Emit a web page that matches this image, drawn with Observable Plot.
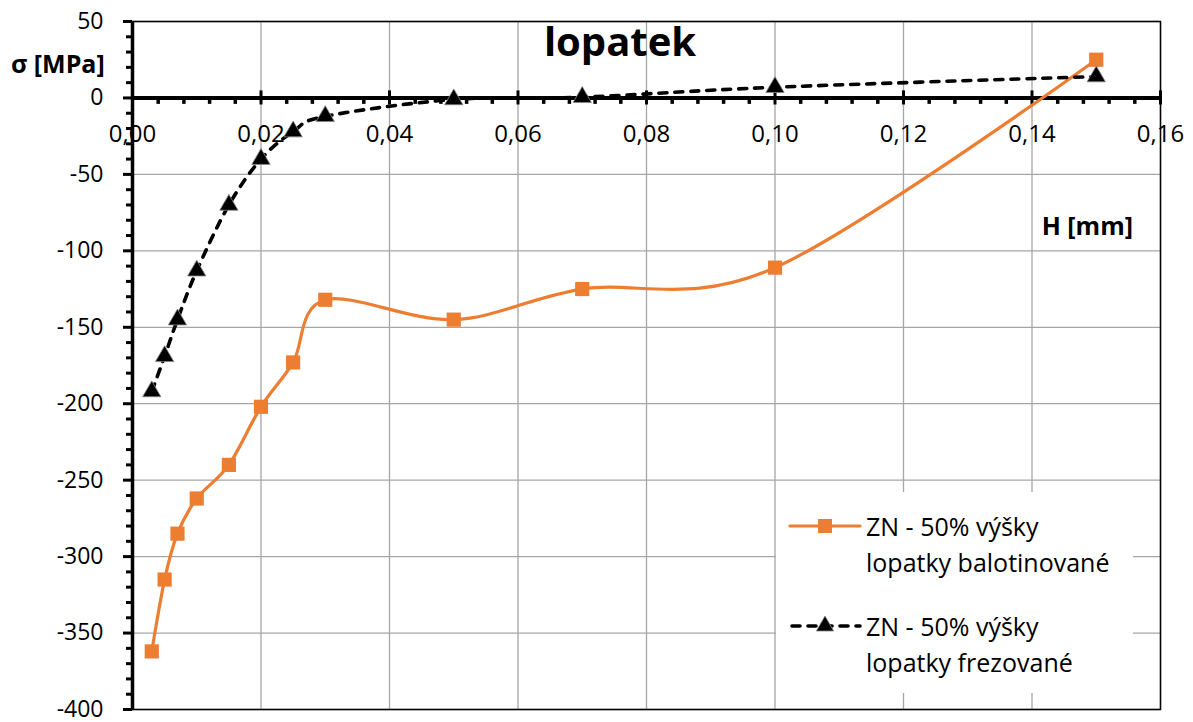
<!DOCTYPE html>
<html>
<head>
<meta charset="utf-8">
<script src="https://cdn.jsdelivr.net/npm/d3@7"></script>
<script src="https://cdn.jsdelivr.net/npm/@observablehq/plot@0.6"></script>
<style>
  html, body { margin: 0; padding: 0; background: #fff; }
  #wrap { position: relative; width: 1193px; height: 722px; overflow: hidden; font-family: "Open Sans", Lato, sans-serif; }
  #title { position: absolute; left: 0; width: 1240px; top: 14px; text-align: center; font-weight: bold; font-size: 40px; line-height: 54px; color: #000; }
  .lab { position: absolute; font-weight: bold; font-size: 25px; line-height: 26px; color: #000; white-space: nowrap; }
  #legend { position: absolute; left: 776px; top: 492px; width: 357px; height: 201px; background: #fff; }
  .lrow { position: absolute; left: 0; width: 357px; }
  .lrow svg { position: absolute; left: 12px; }
  .ltext { position: absolute; left: 90px; font-size: 25px; line-height: 36px; color: #000; white-space: nowrap; }
</style>
</head>
<body>
<div id="wrap">
  <div id="chart"></div>
  <div id="title">lopatek</div>
  <div class="lab" id="ylab" style="left:11px; top:50px;">σ [MPa]</div>
  <div class="lab" id="xlab" style="right:60px; top:212px;">H [mm]</div>
  <div id="legend"></div>
</div>
<script>
// ---- data ----
const H = [0.003, 0.005, 0.007, 0.010, 0.015, 0.020, 0.025, 0.030, 0.050, 0.070, 0.100, 0.150];
const sigmaBalot = [-362, -315, -285, -262, -240, -202, -173, -132, -145, -125, -111, 25];
const sigmaFrez = [-192, -169, -145, -113, -70, -40, -22, -12, -1, 0.5, 7, 14];
const seriesNames = ["ZN - 50% výšky\nlopatky balotinované", "ZN - 50% výšky\nlopatky frezované"];
const xMajor = [0, 0.02, 0.04, 0.06, 0.08, 0.10, 0.12, 0.14, 0.16];
const yMajor = [-400, -350, -300, -250, -200, -150, -100, -50, 0, 50];

const orange = "#ED7D31";
const balot = H.map((h, i) => ({h, s: sigmaBalot[i]}));
const frez = H.map((h, i) => ({h, s: sigmaFrez[i]}));
const xMinor = d3.range(0, 0.1601, 0.004).map(v => +v.toFixed(3)).filter(v => !xMajor.some(m => Math.abs(m - v) < 1e-9));
const yMinor = d3.range(-400, 51, 10).filter(v => v % 50 !== 0);
const fmtX = d => d3.format(".2f")(d).replace(".", ",");

const chart = Plot.plot({
  width: 1193,
  height: 722,
  marginLeft: 132,
  marginRight: 33,
  marginTop: 21,
  marginBottom: 13,
  style: {fontFamily: "'Open Sans', Lato, sans-serif", fontSize: "23px", color: "#000", background: "#fff", overflow: "visible"},
  x: {domain: [0, 0.16], axis: null},
  y: {domain: [-400, 50]},
  marks: [
    Plot.gridX(xMajor, {stroke: "#a6a6a6", strokeOpacity: 1, strokeWidth: 1.3}),
    Plot.gridY(yMajor, {stroke: "#a6a6a6", strokeOpacity: 1, strokeWidth: 1.3}),
    Plot.frame({stroke: "#000", strokeWidth: 1.5}),
    // y axis: major ticks with labels, minor ticks
    Plot.axisY(yMajor, {tickSize: 9, tickPadding: 20, strokeWidth: 3, tickFormat: d => String(d), fontSize: 23, label: null}),
    Plot.axisY(yMinor, {tickSize: 6, strokeWidth: 3, tickFormat: () => "", label: null}),
    // x axis labels along y=0
    Plot.text(xMajor, {x: d => d, y: 0, text: fmtX, dy: 36, fontSize: 24, fill: "#000"}),
    // x axis line at y=0 and its ticks
    Plot.ruleY([0], {stroke: "#000", strokeWidth: 4}),
    Plot.ruleX(xMajor, {x: d => d, y1: -4.6, y2: 4.6, stroke: "#000", strokeWidth: 3}),
    Plot.ruleX(xMinor, {x: d => d, y1: 0, y2: -4.2, stroke: "#000", strokeWidth: 3.5}),
    Plot.ruleX([0], {stroke: "#000", strokeWidth: 3.5}),
    // series
    Plot.line(balot, {x: "h", y: "s", curve: "cardinal", stroke: orange, strokeWidth: 3.2}),
    Plot.line(frez, {x: "h", y: "s", curve: "cardinal", stroke: "#000", strokeWidth: 3.6, strokeDasharray: "8,8", strokeLinecap: "round"}),
    Plot.dot(balot, {x: "h", y: "s", symbol: "square", r: 8, fill: orange, stroke: "none"}),
    Plot.dot(frez, {x: "h", y: "s", symbol: "triangle", r: 6.8, fill: "#000", stroke: "#888", strokeWidth: 0.8})
  ]
});
document.getElementById("chart").appendChild(chart);

// ---- legend ----
const legend = document.getElementById("legend");
const rows = [
  {name: seriesNames[0], kind: "square", top: 16},
  {name: seriesNames[1], kind: "triangle", top: 116}
];
rows.forEach(r => {
  const row = document.createElement("div");
  row.className = "lrow";
  row.style.top = r.top + "px";
  const ns = "http://www.w3.org/2000/svg";
  const svg = document.createElementNS(ns, "svg");
  svg.setAttribute("width", 76);
  svg.setAttribute("height", 36);
  const line = document.createElementNS(ns, "line");
  line.setAttribute("y1", 18); line.setAttribute("y2", 18);
  if (r.kind === "square") {
    line.setAttribute("x1", 2); line.setAttribute("x2", 72);
    line.setAttribute("stroke-width", 3.2);
    line.setAttribute("stroke", orange);
    line.setAttribute("stroke-linecap", "round");
    svg.appendChild(line);
    const p = document.createElementNS(ns, "path");
    p.setAttribute("d", d3.symbol(d3.symbolSquare, 196)());
    p.setAttribute("transform", "translate(37,18)");
    p.setAttribute("fill", orange);
    svg.appendChild(p);
  } else {
    line.setAttribute("x1", 4); line.setAttribute("x2", 72);
    line.setAttribute("stroke-width", 3.6);
    line.setAttribute("stroke", "#000");
    line.setAttribute("stroke-dasharray", "8,8");
    line.setAttribute("stroke-linecap", "round");
    svg.appendChild(line);
    const p = document.createElementNS(ns, "path");
    p.setAttribute("d", d3.symbol(d3.symbolTriangle, 130)());
    p.setAttribute("transform", "translate(37,18)");
    p.setAttribute("fill", "#000");
    p.setAttribute("stroke", "#888");
    p.setAttribute("stroke-width", 0.8);
    svg.appendChild(p);
  }
  row.appendChild(svg);
  r.name.split("\n").forEach((t, i) => {
    const s = document.createElement("div");
    s.className = "ltext";
    s.style.top = (i * 36) + "px";
    s.textContent = t;
    row.appendChild(s);
  });
  legend.appendChild(row);
});
</script>
</body>
</html>
